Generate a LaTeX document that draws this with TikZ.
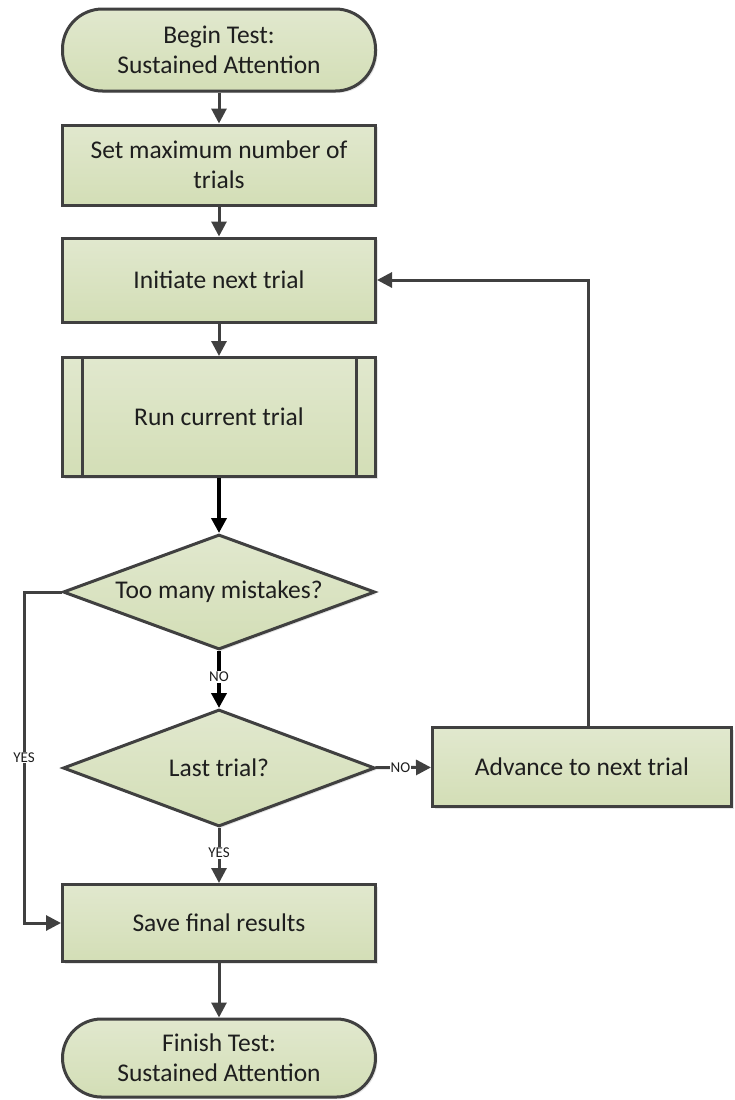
\documentclass[tikz,border=0pt]{standalone}
\usepackage{fontspec}
\setmainfont{Carlito}
\usetikzlibrary{arrows.meta,shapes.geometric,shadows}
\definecolor{edgec}{HTML}{404040}
\definecolor{fillt}{HTML}{E1E8CE}
\definecolor{fillb}{HTML}{D3DEB6}
\definecolor{txt}{HTML}{1E1E1E}
\tikzset{
  base/.style={draw=edgec, line width=3pt, top color=fillt, bottom color=fillb,
    text=txt, align=center, inner sep=2pt,
    font=\fontsize{25.5}{30}\selectfont,
    drop shadow={shadow xshift=2pt, shadow yshift=-2pt, opacity=0.25, fill=black!40}},
  procbox/.style={base, rectangle, minimum width=313pt},
  termbox/.style={base, rectangle, rounded corners=40pt, minimum width=313pt},
  decbox/.style={base, diamond, aspect=2.7, inner sep=0pt, minimum width=312pt, minimum height=115pt},
  conn/.style={draw=edgec, line width=3pt, -{Triangle[length=15pt,width=15pt]}},
  connk/.style={draw=black, line width=4pt, -{Triangle[length=15pt,width=15pt]}},
  lbl/.style={fill=white, inner sep=1pt, text=txt, font=\fontsize{15}{17}\selectfont}
}
\begin{document}
\begin{tikzpicture}[x=1pt,y=-1pt]
\useasboundingbox (0,0) rectangle (734,1100);
\node[termbox, minimum height=82pt] (begin) at (219,50) {Begin Test:\\Sustained Attention};
\node[procbox, minimum height=80pt] (setmax) at (219,165) {Set maximum number of\\trials};
\node[procbox, minimum height=84pt] (init) at (219,280) {Initiate next trial};
\node[procbox, minimum height=119pt] (run) at (219,417) {Run current trial};
\draw[edgec, line width=3pt] ([xshift=21pt]run.north west) -- ([xshift=21pt]run.south west);
\draw[edgec, line width=3pt] ([xshift=-21pt]run.north east) -- ([xshift=-21pt]run.south east);
\node[decbox] (d1) at (219,592) {Too many mistakes?};
\node[decbox, minimum height=117pt] (d2) at (219,768) {Last trial?};
\node[procbox, minimum width=299pt, minimum height=79pt] (adv) at (582,767) {Advance to next trial};
\node[procbox, minimum height=77pt] (save) at (219,923) {Save final results};
\node[termbox, minimum height=78pt, rounded corners=39pt] (finish) at (219,1058) {Finish Test:\\Sustained Attention};
\coordinate (yesx) at (24,0);
\coordinate (loopx) at (588,0);

\draw[conn] (begin) -- (setmax);
\draw[conn] (setmax) -- (init);
\draw[conn] (init) -- (run);
\draw[connk] (run) -- (d1);
\draw[connk] (d1) -- node[lbl, pos=0.45] {NO} (d2);
\draw[conn] (d2) -- node[lbl, pos=0.45] {YES} (save);
\draw[conn] (d2) -- node[lbl, pos=0.45] {NO} (adv);
\draw[conn] (save) -- (finish);
\draw[conn] (d1.west) -- (d1.west -| yesx) -- node[lbl, pos=0.5] {YES} (save.west -| yesx) -- (save.west);
\draw[conn] (adv.north -| loopx) -- (init.east -| loopx) -- (init.east);
\end{tikzpicture}
\end{document}
